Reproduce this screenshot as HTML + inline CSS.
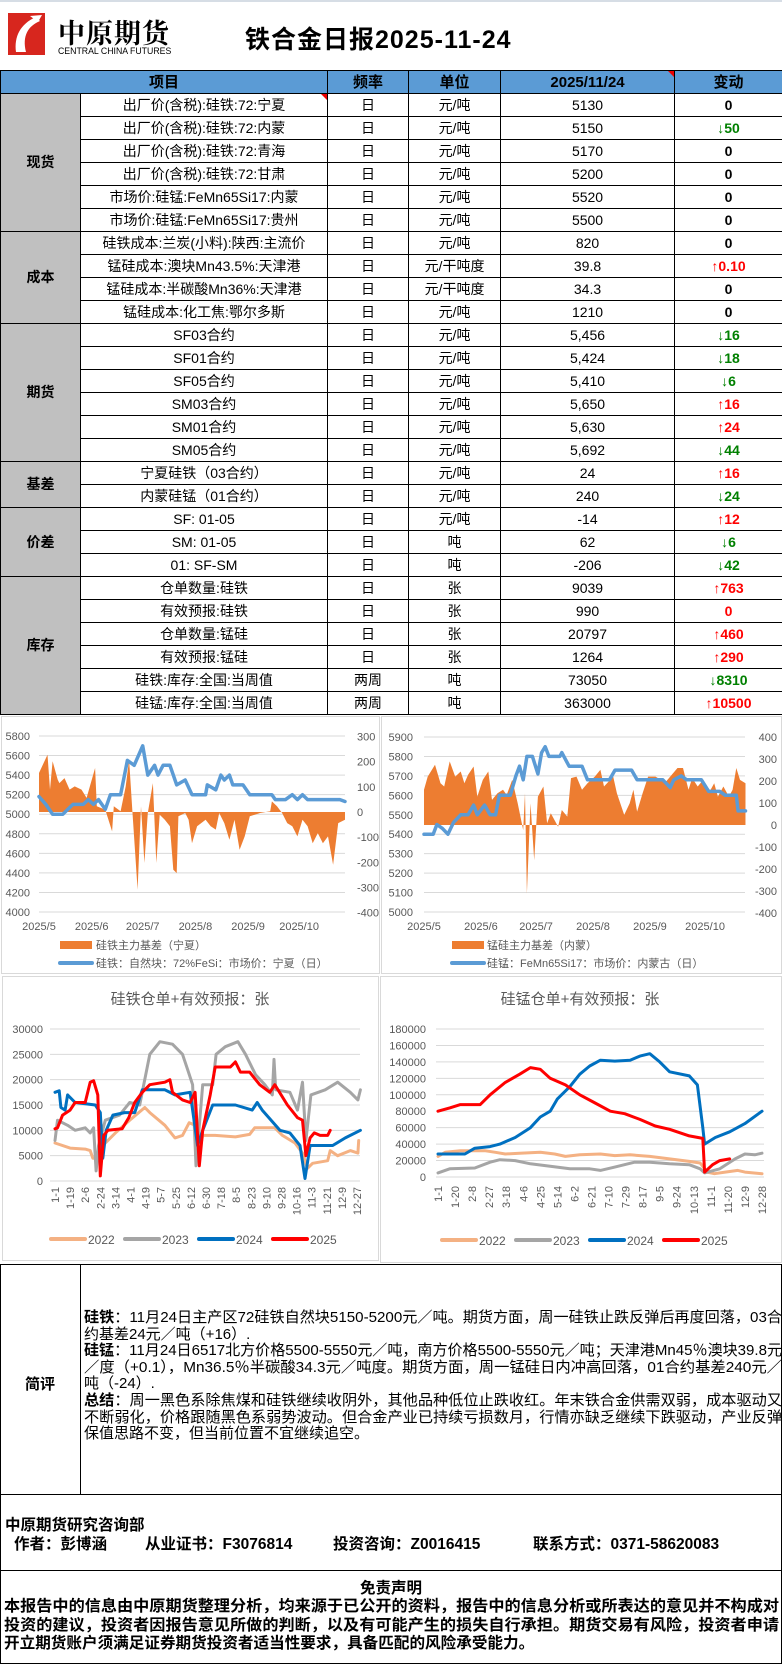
<!DOCTYPE html>
<html><head><meta charset="utf-8">
<style>
*{margin:0;padding:0;box-sizing:border-box}
body{width:782px;height:1664px;position:relative;background:#fff;font-family:"Liberation Sans","Noto Sans CJK SC",sans-serif;overflow:hidden;color:#000}
.abs{position:absolute}
table.main{position:absolute;left:0;top:70px;width:782px;border-collapse:collapse;table-layout:fixed}
table.main td{border:1px solid #000;height:23px;padding:0;text-align:center;font-size:14px;white-space:nowrap;overflow:hidden;line-height:21px}
table.main tr.hd td{background:#5b9bd5;font-weight:bold;font-size:15px}
td.cat{background:#c0c0c0;font-weight:bold;font-size:15px}
.dn{color:#008000;font-weight:bold}
.up{color:#ff0000;font-weight:bold}
.z{font-weight:bold}
.cm{font-size:15px;line-height:16.6px;height:16.6px;white-space:nowrap;transform-origin:left top}
.ft{font-weight:bold;font-size:15.5px;white-space:nowrap}
.dl{font-weight:bold;font-size:15.6px;line-height:18.7px;height:18.7px;white-space:nowrap;transform-origin:left top}
</style></head><body>
<div class="abs" style="left:0;top:0;width:782px;height:2px;background:#d6dde5"></div>
<div class="abs" style="left:0;top:2px;width:185px;height:66px">
  <svg width="185" height="66"><rect x="8" y="11" width="37" height="42" fill="#d7261e"/><path d="M16 50 C14 35 20 22 36 15 L40 19 C28 24 22 34 26 50 Z" fill="#fff"/><path d="M30 14 L42 13 L38 20 Z" fill="#fff"/></svg>
  <div class="abs" style="left:58px;top:10px;font-size:27px;font-weight:bold;font-family:'Noto Serif CJK SC',serif;letter-spacing:1px">中原期货</div>
  <div class="abs" style="left:58px;top:44px;font-size:9.5px;font-family:'Liberation Sans Narrow','Liberation Sans',sans-serif;transform:scaleX(0.92);transform-origin:left">CENTRAL CHINA FUTURES</div>
</div>
<div class="abs" style="left:245px;top:20px;font-size:25px;font-weight:bold;letter-spacing:1px">铁合金日报2025-11-24</div>

<table class="main">
<colgroup><col style="width:80px"><col style="width:247px"><col style="width:81px"><col style="width:92px"><col style="width:174px"><col style="width:108px"></colgroup>
<tr class="hd"><td colspan="2">项目</td><td>频率</td><td>单位</td><td style="position:relative">2025/11/24<span style="position:absolute;right:0;top:0;border-top:6px solid #e00;border-left:6px solid transparent"></span></td><td>变动</td></tr>
<tr><td class="cat" rowspan="6">现货</td><td style="position:relative">出厂价(含税):硅铁:72:宁夏<span style="position:absolute;right:0;top:0;border-top:6px solid #e00;border-left:6px solid transparent"></span></td><td>日</td><td>元/吨</td><td>5130</td><td class="z">0</td></tr>
<tr><td>出厂价(含税):硅铁:72:内蒙</td><td>日</td><td>元/吨</td><td>5150</td><td class="dn">↓50</td></tr>
<tr><td>出厂价(含税):硅铁:72:青海</td><td>日</td><td>元/吨</td><td>5170</td><td class="z">0</td></tr>
<tr><td>出厂价(含税):硅铁:72:甘肃</td><td>日</td><td>元/吨</td><td>5200</td><td class="z">0</td></tr>
<tr><td>市场价:硅锰:FeMn65Si17:内蒙</td><td>日</td><td>元/吨</td><td>5520</td><td class="z">0</td></tr>
<tr><td>市场价:硅锰:FeMn65Si17:贵州</td><td>日</td><td>元/吨</td><td>5500</td><td class="z">0</td></tr>
<tr><td class="cat" rowspan="4">成本</td><td>硅铁成本:兰炭(小料):陕西:主流价</td><td>日</td><td>元/吨</td><td>820</td><td class="z">0</td></tr>
<tr><td>锰硅成本:澳块Mn43.5%:天津港</td><td>日</td><td>元/干吨度</td><td>39.8</td><td class="up">↑0.10</td></tr>
<tr><td>锰硅成本:半碳酸Mn36%:天津港</td><td>日</td><td>元/干吨度</td><td>34.3</td><td class="z">0</td></tr>
<tr><td>锰硅成本:化工焦:鄂尔多斯</td><td>日</td><td>元/吨</td><td>1210</td><td class="z">0</td></tr>
<tr><td class="cat" rowspan="6">期货</td><td>SF03合约</td><td>日</td><td>元/吨</td><td>5,456</td><td class="dn">↓16</td></tr>
<tr><td>SF01合约</td><td>日</td><td>元/吨</td><td>5,424</td><td class="dn">↓18</td></tr>
<tr><td>SF05合约</td><td>日</td><td>元/吨</td><td>5,410</td><td class="dn">↓6</td></tr>
<tr><td>SM03合约</td><td>日</td><td>元/吨</td><td>5,650</td><td class="up">↑16</td></tr>
<tr><td>SM01合约</td><td>日</td><td>元/吨</td><td>5,630</td><td class="up">↑24</td></tr>
<tr><td>SM05合约</td><td>日</td><td>元/吨</td><td>5,692</td><td class="dn">↓44</td></tr>
<tr><td class="cat" rowspan="2">基差</td><td>宁夏硅铁（03合约）</td><td>日</td><td>元/吨</td><td>24</td><td class="up">↑16</td></tr>
<tr><td>内蒙硅锰（01合约）</td><td>日</td><td>元/吨</td><td>240</td><td class="dn">↓24</td></tr>
<tr><td class="cat" rowspan="3">价差</td><td>SF: 01-05</td><td>日</td><td>元/吨</td><td>-14</td><td class="up">↑12</td></tr>
<tr><td>SM: 01-05</td><td>日</td><td>吨</td><td>62</td><td class="dn">↓6</td></tr>
<tr><td>01: SF-SM</td><td>日</td><td>吨</td><td>-206</td><td class="dn">↓42</td></tr>
<tr><td class="cat" rowspan="6">库存</td><td>仓单数量:硅铁</td><td>日</td><td>张</td><td>9039</td><td class="up">↑763</td></tr>
<tr><td>有效预报:硅铁</td><td>日</td><td>张</td><td>990</td><td class="up">0</td></tr>
<tr><td>仓单数量:锰硅</td><td>日</td><td>张</td><td>20797</td><td class="up">↑460</td></tr>
<tr><td>有效预报:锰硅</td><td>日</td><td>张</td><td>1264</td><td class="up">↑290</td></tr>
<tr><td>硅铁:库存:全国:当周值</td><td>两周</td><td>吨</td><td>73050</td><td class="dn">↓8310</td></tr>
<tr><td>硅锰:库存:全国:当周值</td><td>两周</td><td>吨</td><td>363000</td><td class="up">↑10500</td></tr>
</table>

<svg id="charts" class="abs" style="left:0;top:0" width="782" height="1664"></svg>

<div class="abs" style="left:0;top:1264px;width:782px;height:231px;border:1px solid #000"></div>
<div class="abs" style="left:80px;top:1264px;width:1px;height:231px;background:#000"></div>
<div class="abs" style="left:0;top:1373px;width:80px;text-align:center;font-weight:bold;font-size:15px">简评</div>
<div class="abs" style="left:84px;top:1310px">
<div class="cm fit"><b>硅铁</b>：11月24日主产区72硅铁自然块5150-5200元／吨。期货方面，周一硅铁止跌反弹后再度回落，03合</div>
<div class="cm">约基差24元／吨（+16）.</div>
<div class="cm fit"><b>硅锰</b>：11月24日6517北方价格5500-5550元／吨，南方价格5500-5550元／吨；天津港Mn45％澳块39.8元</div>
<div class="cm fit">／度（+0.1），Mn36.5％半碳酸34.3元／吨度。期货方面，周一锰硅日内冲高回落，01合约基差240元／</div>
<div class="cm">吨（-24）.</div>
<div class="cm fit"><b>总结</b>：周一黑色系除焦煤和硅铁继续收阴外，其他品种低位止跌收红。年末铁合金供需双弱，成本驱动又</div>
<div class="cm fit">不断弱化，价格跟随黑色系弱势波动。但合金产业已持续亏损数月，行情亦缺乏继续下跌驱动，产业反弹</div>
<div class="cm">保值思路不变，但当前位置不宜继续追空。</div>
</div>

<div class="abs" style="left:0;top:1494px;width:782px;height:170px;border:1px solid #000"></div>
<div class="abs" style="left:0;top:1570px;width:782px;height:1px;background:#000"></div>
<div class="abs ft" style="left:5px;top:1513px">中原期货研究咨询部</div>
<div class="abs ft" style="left:14px;top:1532px">作者：彭博涵</div>
<div class="abs ft" style="left:145px;top:1532px">从业证书：F3076814</div>
<div class="abs ft" style="left:333px;top:1532px">投资咨询：Z0016415</div>
<div class="abs ft" style="left:533px;top:1532px">联系方式：0371-58620083</div>
<div class="abs ft" style="left:0;width:782px;text-align:center;top:1579px;line-height:20px">免责声明</div>
<div class="abs" style="left:4px;top:1598px">
<div class="dl dfit">本报告中的信息由中原期货整理分析，均来源于已公开的资料，报告中的信息分析或所表达的意见并不构成对</div>
<div class="dl dfit">投资的建议，投资者因报告意见所做的判断，以及有可能产生的损失自行承担。期货交易有风险，投资者申请</div>
<div class="dl">开立期货账户须满足证券期货投资者适当性要求，具备匹配的风险承受能力。</div>
</div>

<script>
document.querySelectorAll('.cm').forEach(el=>{el.style.display='inline-block';});
document.querySelectorAll('.cm').forEach(el=>{
  const w=el.getBoundingClientRect().width;
  if(el.classList.contains('fit')||w>698){el.style.transform='scaleX('+(698/w)+')';}
  el.style.display='block';el.style.width=w+'px';
});
document.querySelectorAll('.dl').forEach(el=>{el.style.display='inline-block';});
document.querySelectorAll('.dl').forEach(el=>{
  const w=el.getBoundingClientRect().width;
  if(el.classList.contains('dfit')||w>775){el.style.transform='scaleX('+(775/w)+')';}
  el.style.display='block';el.style.width=w+'px';
});

// ---------- Chart 1: 硅铁 basis & price ----------
const c1MonthLabels = ["2025/5","2025/6","2025/7","2025/8","2025/9","2025/10"];
const c1MonthDays = [0,31,61,92,123,153];
const c1LeftTicks = [4000,4200,4400,4600,4800,5000,5200,5400,5600,5800];
const c1RightTicks = [-400,-300,-200,-100,0,100,200,300];
const c1PriceDays = [0,4,8,14,17,20,26,29,32,35,39,42,48,52,56,61,64,68,70,73,77,79,81,86,90,98,99,104,107,109,112,114,120,124,137,139,145,149,152,155,158,165,168,177,180];
const c1PriceVals = [5180,5100,5000,5000,5050,5100,5100,5150,5100,5150,5050,5200,5200,5550,5500,5700,5400,5500,5400,5500,5500,5400,5300,5350,5200,5200,5300,5250,5400,5350,5400,5300,5300,5200,5200,5150,5150,5200,5150,5200,5150,5150,5150,5150,5130];
const c1BasisDays = [0,5,6.5,8,11,12,15,18,21,25,28,33,34,39,43,44,48,51,53,55,58,60,62,64,67,69,71,74,77,79,81,82,86,88,90,93,98,101,104,106,109,112,115,118,121,124,130,136,137,140,143,146,149,152,155,158,161,164,167,170,173,176,180];
const c1BasisVals = [155,228,89,202,129,115,135,89,102,89,56,175,23,9,-77,23,3,102,208,-4,-309,23,-203,-4,115,-203,-11,-31,-57,-230,-243,-17,-4,-31,-124,-57,-31,-57,-70,-4,-44,-110,-31,-150,-97,-17,-4,3,42,23,-4,-44,-57,-97,-31,-57,-124,-84,-124,-97,-210,-44,-31];
// ---------- Chart 2: 硅锰 basis & price ----------
const c2LeftTicks = [5000,5100,5200,5300,5400,5500,5600,5700,5800,5900];
const c2RightTicks = [-400,-300,-200,-100,0,100,200,300,400];
const c2PriceDays = [0,5,7,10,13,16,20,24,27,29,33,36,39,41,47,50,52,54,56,59,62,64,66,68,74,75,79,86,89,101,104,113,116,130,134,136,140,143,151,155,161,164,170,171,175];
const c2PriceVals = [5400,5400,5450,5430,5400,5460,5500,5500,5550,5500,5550,5500,5500,5600,5600,5700,5750,5680,5800,5800,5710,5820,5850,5800,5800,5820,5750,5750,5680,5680,5730,5730,5680,5680,5640,5680,5700,5680,5680,5620,5620,5600,5600,5520,5520];
const c2BasisDays = [0,2,6,9,11,14,17,20,22,24,27,29,32,35,37,40,43,45,48,51,54,55,56,58,60,62,65,67,69,71,73,75,78,80,83,86,89,93,96,98,103,105,109,112,114,116,119,122,126,129,131,134,138,141,144,146,149,152,155,158,160,163,166,168,170,172,175];
const c2BasisVals = [160,220,274,190,175,289,220,243,190,228,266,129,205,243,114,144,160,137,205,99,-23,144,-312,99,-160,129,175,8,53,23,-8,68,38,213,220,160,190,220,251,175,220,144,46,99,160,61,144,220,220,205,190,220,259,259,160,213,175,205,144,190,129,175,129,160,259,205,190];
// ---------- Chart 3: 硅铁仓单 (thousand) ----------
const c3Ticks = [0,5000,10000,15000,20000,25000,30000];
const c3XLabels = ["1-1","1-19","2-6","2-24","3-14","4-1","4-19","5-7","5-25","6-12","6-30","7-18","8-5","8-23","9-10","9-28","10-16","11-3","11-21","12-9","12-27"];
const c3Days22 = [0,18,36,42,45,54,57,72,89,107,113,131,143,152,160,167,170,176,191,215,232,238,262,271,286,295,301,307,325,328,337,352,361,362];
const c3Vals22 = [7.5,6.5,6.3,6.0,4.5,4.5,7,9.5,12,14.5,13.5,11,8.5,9,11.5,11,4,9,9,8.7,9.2,10.5,10.5,9,7.5,5.5,2.5,3.5,4,6,5,6,5.5,8];
const c3Days23 = [0,3,15,24,36,42,46,49,52,60,77,89,101,113,125,140,152,158,164,168,176,188,192,203,218,227,239,250,259,261,263,280,289,295,299,305,322,337,352,361,364];
const c3Vals23 = [8,12,11,10,10.5,9.5,10.5,2,7,12,13,15.5,15,25,27.5,27,25,22,19,3,19,19,25,26.5,27.5,25,21,19,17,24,18,17.5,14,19.5,8,17,18,19.5,17.5,16,18];
const c3Days24 = [0,5,7,12,15,24,48,54,57,61,69,83,95,104,131,143,161,170,176,188,215,235,241,247,268,280,292,298,304,322,331,346,364];
const c3Vals24 = [17.5,17.8,14.5,14,17,15.5,15,13.5,4.5,10,13,13.5,13.5,18,18,17,17.5,7,10,15,15,14,15.5,14,10,9.5,7,0.5,7,7,7,8.5,10];
const c3Days25 = [0,3,9,18,24,36,42,46,51,54,58,63,80,88,95,104,113,131,137,140,152,161,167,172,176,185,191,209,215,221,232,244,256,262,277,289,295,299,304,309,316,325,328];
const c3Vals25 = [10.3,10.5,13,14,15.5,15.5,19.5,19.8,17,1,9,10,10.3,12.5,15.5,17.5,19,19.5,20,17.5,16,15.5,17.5,3,10,17,22.5,22.5,23.5,21.5,21.5,19,17.5,19,15,12.5,12,5,8.5,9.5,9,9,10];
// ---------- Chart 4: 硅锰仓单 (thousand) ----------
const c4Ticks = [0,20000,40000,60000,80000,100000,120000,140000,160000,180000];
const c4XLabels = ["1-1","1-20","2-8","2-27","3-18","4-6","4-25","5-14","6-2","6-21","7-10","7-29","8-17","9-5","9-24","10-13","11-1","11-20","12-9","12-28"];
const c4Days22 = [0,8,25,52,64,75,91,114,130,142,158,181,197,214,236,258,280,292,300,308,320,334,342,361];
const c4Vals22 = [25,30,32,32,30,28,29,30,28,25,27,28,26,27,25,22,19,17,6,4,6,8,6,4];
const c4Days23 = [0,13,41,58,69,86,103,125,147,169,181,197,219,236,258,280,292,297,314,331,342,353,361];
const c4Vals23 = [5,10,11,18,21,20,16,13,10,10,8,12,18,18,16,15,10,5,10,22,28,27,29];
const c4Days24 = [0,13,30,41,58,69,86,103,114,125,133,147,158,169,181,197,214,225,236,247,258,280,289,295,297,309,325,342,361];
const c4Vals24 = [28,28,28,35,37,40,48,60,73,80,95,110,125,135,142,141,142,147,150,140,128,123,112,60,40,48,55,65,80];
const c4Days25 = [0,13,25,47,58,75,91,103,114,125,142,158,175,192,208,225,242,258,280,295,297,306,314,325];
const c4Vals25 = [80,84,88,88,100,115,125,133,131,120,112,100,90,80,77,70,62,58,50,47,6,15,20,22];
const legendYears = ["2022","2023","2024","2025"];

const NS="http://www.w3.org/2000/svg";
const svg=document.getElementById('charts');
function mk(tag,attrs,parent){const e=document.createElementNS(NS,tag);for(const k in attrs)e.setAttribute(k,attrs[k]);(parent||svg).appendChild(e);return e;}
function txt(s,x,y,attrs,parent){const t=mk('text',Object.assign({x:x,y:y,'font-size':11,fill:'#595959','font-family':'Liberation Sans, Noto Sans CJK SC, sans-serif'},attrs||{}),parent);t.textContent=s;return t;}
function group(name){const g=mk('g',{});return g;}

const c1x=d=>39+d*1.7, c1yL=v=>912-(v-4000)*176/1800, c1yR=v=>812-v*176/700;
const c2x=d=>424+d*1.837, c2yL=v=>912-(v-5000)*175/900, c2yR=v=>825-v*88/400;
const c3x=d=>55+d*0.839, c3y=v=>1181-v*152/30;
const c4x=d=>438+d*0.8975, c4y=v=>1177-v*148/180;

function panel(name,x,y,w,h){const r=mk('rect',{x:x+0.5,y:y+0.5,width:w,height:h,fill:'#fff',stroke:'#d9d9d9'});}
panel('chart1-panel',1,716,378,257);
panel('chart2-panel',381,716,400,257);
panel('chart3-panel',2,976,376,284);
panel('chart4-panel',380,976,401,286);

function area(name,days,vals,xf,yf,color){
  let d='M'+xf(days[0])+','+yf(0);
  days.forEach((dd,i)=>{d+=' L'+xf(dd).toFixed(1)+','+yf(vals[i]).toFixed(1);});
  d+=' L'+xf(days[days.length-1])+','+yf(0)+' Z';
  const p=mk('path',{d:d,fill:color});
}
function line(name,days,vals,xf,yf,color,w){
  const pts=days.map((dd,i)=>xf(dd).toFixed(1)+','+yf(vals[i]).toFixed(1)).join(' ');
  const p=mk('polyline',{points:pts,fill:'none',stroke:color,'stroke-width':w,'stroke-linejoin':'round','stroke-linecap':'round'});
  
}

(function(){
  const g=group('chart1-axes');
  c1LeftTicks.forEach(v=>{mk('line',{x1:39,x2:345,y1:c1yL(v),y2:c1yL(v),stroke:'#d9d9d9'},g);txt(v,30,c1yL(v)+4,{'text-anchor':'end'},g);});
  c1RightTicks.forEach(v=>txt(v,357,c1yR(v)+4,{},g));
  c1MonthDays.forEach((d,i)=>txt(c1MonthLabels[i],c1x(d),930,{'text-anchor':'middle'},g));
  area('chart1-basis-area',c1BasisDays,c1BasisVals,c1x,c1yR,'#ed7d31');
  line('chart1-price-line',c1PriceDays,c1PriceVals,c1x,c1yL,'#5b9bd5',3.5);
  const lg=group('chart1-legend');
  mk('rect',{x:60,y:941,width:32,height:8,fill:'#ed7d31'},lg);
  txt('硅铁主力基差（宁夏）',96,949,{},lg);
  mk('line',{x1:60,x2:92,y1:963,y2:963,stroke:'#5b9bd5','stroke-width':4,'stroke-linecap':'round'},lg);
  txt('硅铁：自然块：72%FeSi：市场价：宁夏（日）',96,967,{},lg);
})();
(function(){
  const g=group('chart2-axes');
  c2LeftTicks.forEach(v=>{mk('line',{x1:424,x2:745,y1:c2yL(v),y2:c2yL(v),stroke:'#d9d9d9'},g);txt(v,413,c2yL(v)+4,{'text-anchor':'end'},g);});
  c2RightTicks.forEach(v=>txt(v,777,c2yR(v)+4,{'text-anchor':'end'},g));
  c1MonthDays.forEach((d,i)=>txt(c1MonthLabels[i],c2x(d),930,{'text-anchor':'middle'},g));
  area('chart2-basis-area',c2BasisDays,c2BasisVals,c2x,c2yR,'#ed7d31');
  line('chart2-price-line',c2PriceDays,c2PriceVals,c2x,c2yL,'#5b9bd5',3.5);
  const lg=group('chart2-legend');
  mk('rect',{x:452,y:941,width:32,height:8,fill:'#ed7d31'},lg);
  txt('锰硅主力基差（内蒙）',487,949,{},lg);
  mk('line',{x1:452,x2:484,y1:963,y2:963,stroke:'#5b9bd5','stroke-width':4,'stroke-linecap':'round'},lg);
  txt('硅锰：FeMn65Si17：市场价：内蒙古（日）',487,967,{},lg);
})();
const yrColors=['#f4b183','#a5a5a5','#0070c0','#ff0000'];
function legend(gname,x0,step,y){
  const lg=group(gname);
  legendYears.forEach((s,i)=>{
    mk('line',{x1:x0+i*step,x2:x0+i*step+34,y1:y,y2:y,stroke:yrColors[i],'stroke-width':4,'stroke-linecap':'round'},lg);
    txt(s,x0+i*step+37,y+5,{'font-size':12},lg);
  });
}
(function(){
  const g=group('chart3-axes');
  txt('硅铁仓单+有效预报：张',190,1004,{'text-anchor':'middle','font-size':15},g);
  c3Ticks.forEach(v=>{mk('line',{x1:50,x2:360,y1:c3y(v/1000),y2:c3y(v/1000),stroke:'#d9d9d9'},g);txt(v,43,c3y(v/1000)+4,{'text-anchor':'end'},g);});
  c3XLabels.forEach((s,i)=>{const x=c3x(i*18)+4;txt(s,0,0,{'text-anchor':'end',transform:'translate('+x+',1187) rotate(-90)'},g);});
  line('chart3-2022',c3Days22,c3Vals22,c3x,c3y,yrColors[0],3);
  line('chart3-2023',c3Days23,c3Vals23,c3x,c3y,yrColors[1],3);
  line('chart3-2024',c3Days24,c3Vals24,c3x,c3y,yrColors[2],3);
  line('chart3-2025',c3Days25,c3Vals25,c3x,c3y,yrColors[3],3);
  legend('chart3-legend',51,74,1239);
})();
(function(){
  const g=group('chart4-axes');
  txt('硅锰仓单+有效预报：张',580,1004,{'text-anchor':'middle','font-size':15},g);
  c4Ticks.forEach(v=>{mk('line',{x1:436,x2:764,y1:c4y(v/1000),y2:c4y(v/1000),stroke:'#d9d9d9'},g);txt(v,426,c4y(v/1000)+4,{'text-anchor':'end'},g);});
  c4XLabels.forEach((s,i)=>{const x=c4x(i*19)+4;txt(s,0,0,{'text-anchor':'end',transform:'translate('+x+',1186) rotate(-90)'},g);});
  line('chart4-2022',c4Days22,c4Vals22,c4x,c4y,yrColors[0],3);
  line('chart4-2023',c4Days23,c4Vals23,c4x,c4y,yrColors[1],3);
  line('chart4-2024',c4Days24,c4Vals24,c4x,c4y,yrColors[2],3);
  line('chart4-2025',c4Days25,c4Vals25,c4x,c4y,yrColors[3],3);
  legend('chart4-legend',442,74,1240);
})();
</script>
</body></html>
